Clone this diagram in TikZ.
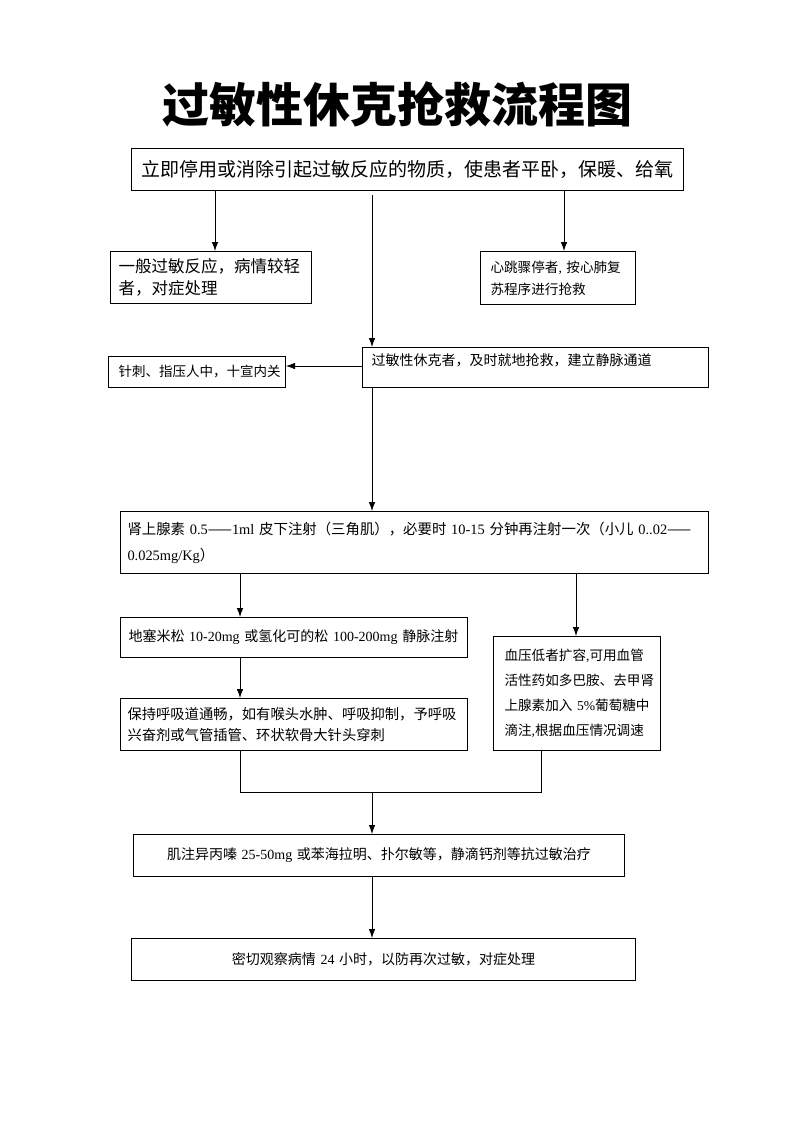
\documentclass[tikz,border=0pt]{standalone}
\usepackage{fontspec}
\setmainfont{Noto Sans CJK SC}
\newfontfamily\tm{Liberation Serif}
\usetikzlibrary{arrows.meta}
\begin{document}
\begin{tikzpicture}[x=1pt,y=-1pt,
  box/.style={draw,line width=1pt,inner ysep=0pt,anchor=north west,align=left},
  arr/.style={-{Latex[length=9pt,width=6.5pt]},line width=0.8pt},
  ln/.style={line width=0.8pt}]
\useasboundingbox (0,0) rectangle (793,1122);
\node (title) at (397,104) {\fontsize{47}{47}\selectfont\bfseries 过敏性休克抢救流程图};
% boxes
\node[box,align=center,text width=540pt,inner xsep=6pt,minimum height=42pt,font=\fontsize{19}{22}\selectfont] (b1) at (131,148) {立即停用或消除引起过敏反应的物质，使患者平卧，保暖、给氧};
\node[box,text width=185pt,inner xsep=8pt,minimum height=52pt,font=\fontsize{16.5}{22}\selectfont] (b2) at (110,251) {一般过敏反应，病情较轻\\者，对症处理};
\node[box,text width=135pt,inner xsep=10pt,minimum height=53pt,font=\fontsize{13.6}{22}\selectfont] (b3) at (480,251) {心跳骤停者{\tm ,} 按心肺复\\苏程序进行抢救};
\node[box,text width=328pt,inner xsep=9pt,text height=18pt,text depth=22pt,font=\fontsize{14}{18}\selectfont] (b4) at (362,347) {过敏性休克者，及时就地抢救，建立静脉通道};
\node[box,text width=157pt,inner xsep=10pt,minimum height=31pt,font=\fontsize{13.5}{18}\selectfont] (b5) at (108,356) {针刺、指压人中，十宣内关};
\node[box,text width=574pt,inner xsep=7pt,minimum height=62pt,font=\fontsize{14.4}{26}\selectfont] (b6) at (120,511) {肾上腺素 {\tm 0.5}——{\tm 1ml} 皮下注射（三角肌），必要时 {\tm 10-15} 分钟再注射一次（小儿 {\tm 0..02}——\\{\tm 0.025mg/Kg}）};
\node[box,text width=331pt,inner xsep=8pt,minimum height=40pt,font=\fontsize{14}{18}\selectfont] (b7) at (120,617) {地塞米松 {\tm 10-20mg} 或氢化可的松 {\tm 100-200mg} 静脉注射};
\node[box,text width=145pt,inner xsep=11pt,minimum height=114pt,font=\fontsize{13.6}{25}\selectfont] (b8) at (493,636) {\mbox{血压低者扩容{\tm ,}可用血管}\\\mbox{活性药如多巴胺、去甲肾}\\\mbox{上腺素加入 {\tm 5\%}葡萄糖中}\\\mbox{滴注{\tm ,}根据血压情况调速}};
\node[box,text width=333pt,inner xsep=7pt,minimum height=52pt,font=\fontsize{14.3}{21}\selectfont] (b9) at (120,698) {保持呼吸道通畅，如有喉头水肿、呼吸抑制，予呼吸\\兴奋剂或气管插管、环状软骨大针头穿刺};
\node[box,align=center,text width=479pt,inner xsep=6pt,minimum height=42pt,font=\fontsize{14}{18}\selectfont] (b10) at (133,834) {肌注异丙嗪 {\tm 25-50mg} 或苯海拉明、扑尔敏等，静滴钙剂等抗过敏治疗};
\node[box,align=center,text width=492pt,inner xsep=6pt,minimum height=42pt,font=\fontsize{14}{18}\selectfont] (b11) at (131,938) {密切观察病情 {\tm 24} 小时，以防再次过敏，对症处理};
% helper coordinates
\coordinate (xa) at (215,0);
\coordinate (xb) at (564,0);
\coordinate (m0) at (372,195);
\coordinate (y5) at (0,366);
\coordinate (xc) at (240,0);
\coordinate (xd) at (576,0);
\coordinate (xe) at (541,0);
\coordinate (j) at (372,792);
% connectors
\draw[arr] (b1.south -| xa) -- (b2.north -| xa);
\draw[arr] (b1.south -| xb) -- (b3.north -| xb);
\draw[arr] (m0) -- (b4.north -| m0);
\draw[arr] (b4.west |- y5) -- (b5.east |- y5);
\draw[arr] (b4.south -| m0) -- (b6.north -| m0);
\draw[arr] (b6.south -| xc) -- (b7.north -| xc);
\draw[arr] (b6.south -| xd) -- (b8.north -| xd);
\draw[arr] (b7.south -| xc) -- (b9.north -| xc);
\draw[ln] (b9.south -| xc) |- (j) -| (b8.south -| xe);
\draw[arr] (j) -- (b10.north -| j);
\draw[arr] (b10.south -| j) -- (b11.north -| j);
\end{tikzpicture}
\end{document}
